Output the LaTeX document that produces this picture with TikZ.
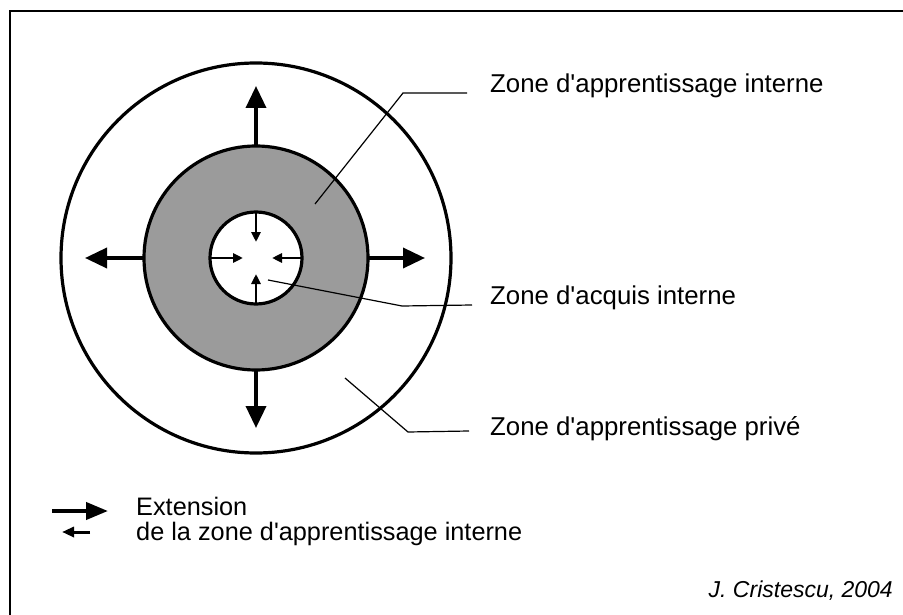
\documentclass[tikz,border=0pt]{standalone}
\usepackage{fontspec}
\setmainfont{Liberation Sans}
\usetikzlibrary{arrows.meta}
\definecolor{ringgray}{RGB}{155,155,155}
\newcommand{\apos}{\textquotesingle}
\tikzset{
  ring/.style={circle, draw=black, line width=3.2pt, inner sep=0pt, outer sep=0pt},
  bigarrow/.style={line width=3.6pt, -{Triangle[length=22pt,width=20pt]}},
  smallarrow/.style={line width=2.6pt, -{Triangle[length=10pt,width=9pt]}},
  leader/.style={line width=1.2pt},
  lbl/.style={font=\fontsize{25.8}{30}\selectfont, anchor=base west, inner sep=0pt},
  legtxt/.style={font=\fontsize{25.3}{29}\selectfont, anchor=base west, inner sep=0pt},
}
\begin{document}
\begin{tikzpicture}[x=1pt,y=-1pt]
\useasboundingbox (0,0) rectangle (903,615);
\clip (0,0) rectangle (903,615);
\fill[white] (0,0) rectangle (903,615);
\draw[line width=2.6pt] (10,11) rectangle (910,625);

\coordinate (c) at (256,258);
\node[ring, minimum size=390pt] (outer) at (c) {};
\node[ring, minimum size=224pt, fill=ringgray] (mid) at (c) {};
\node[ring, minimum size=92pt, fill=white] (inner) at (c) {};

% outward arrows
\draw[bigarrow] (mid.north) -- ++(0,-60);
\draw[bigarrow] (mid.south) -- ++(0,58);
\draw[bigarrow] (mid.west) -- ++(-59,0);
\draw[bigarrow] (mid.east) -- ++(57,0);

% inward arrows
\draw[smallarrow] (inner.north) -- ++(0,30);
\draw[smallarrow] (inner.south) -- ++(0,-30);
\draw[smallarrow] (inner.west) -- ++(33,0);
\draw[smallarrow] (inner.east) -- ++(-30,0);

% labels
\node[lbl] (l1) at (490,93) {Zone d\apos apprentissage interne};
\node[lbl] (l2) at (490,304) {Zone d\apos acquis interne};
\node[lbl] (l3) at (490,435) {Zone d\apos apprentissage privé};

% leader lines
\coordinate (p1) at (315,204);
\coordinate (b1) at (403,93);
\coordinate (e1) at (467,93);
\draw[leader] (p1) -- (b1) -- (e1);
\coordinate (p2) at (268,280);
\coordinate (b2) at (402,306);
\coordinate (e2) at (472,305);
\draw[leader] (p2) -- (b2) -- (e2);
\coordinate (p3) at (345,378);
\coordinate (b3) at (408,432);
\coordinate (e3) at (469,431);
\draw[leader] (p3) -- (b3) -- (e3);

% legend
\coordinate (la1) at (52,511);
\coordinate (la2) at (108,511);
\draw[line width=4pt, -{Triangle[length=22pt,width=17pt]}] (la1) -- (la2);
\coordinate (lb1) at (90,532);
\coordinate (lb2) at (62,532);
\draw[line width=3pt, -{Triangle[length=12pt,width=10pt]}] (lb1) -- (lb2);
\node[legtxt] (t1) at (136,515) {Extension};
\node[legtxt] (t2) at (136,540) {de la zone d\apos apprentissage interne};

\node[font=\fontsize{23}{27}\selectfont\itshape, anchor=base east, inner sep=0pt] (cite) at (893,597) {J. Cristescu, 2004};
\end{tikzpicture}
\end{document}
